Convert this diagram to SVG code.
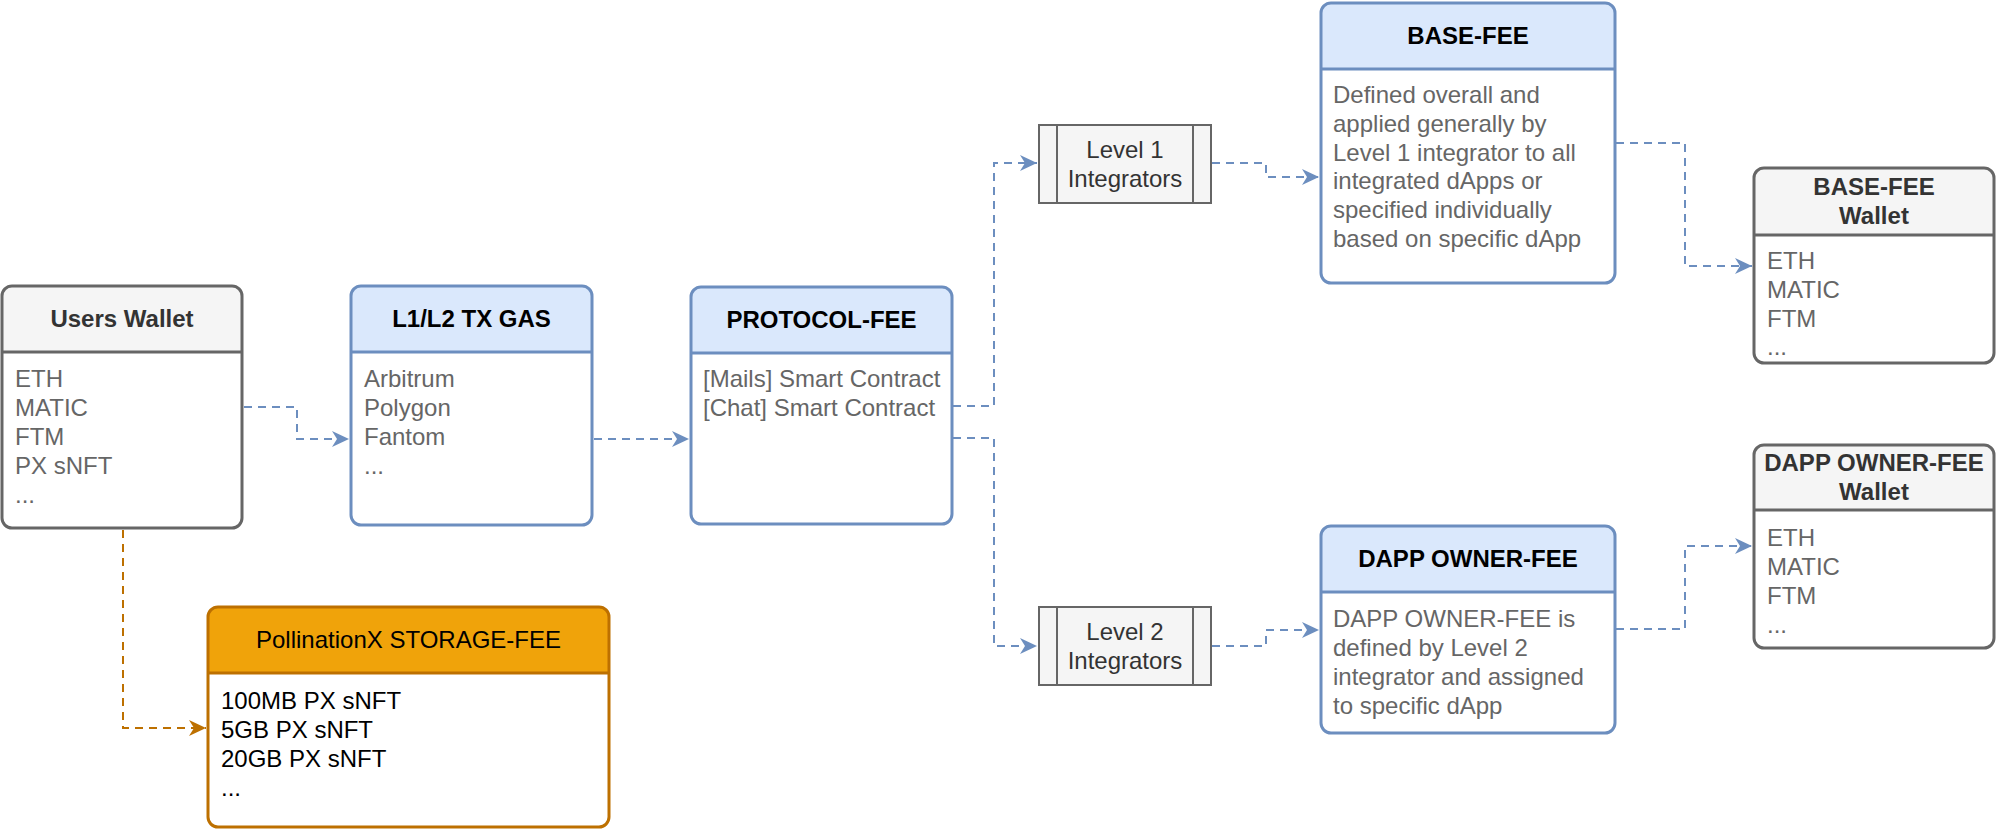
<svg xmlns="http://www.w3.org/2000/svg" width="1996" height="830" viewBox="0 0 1996 830">
<style>
text{font-family:"Liberation Sans",Arial,Helvetica,sans-serif;font-size:24px}
.t{font-weight:bold;text-anchor:middle}
.c{text-anchor:middle}
.g{fill:#666666}
.k{fill:#000000}
.d{fill:#333333}
.body{fill:#ffffff;stroke:none}
.ob{fill:none;stroke:#6c8ebf;stroke-width:3}
.og{fill:none;stroke:#666666;stroke-width:3}
.oo{fill:none;stroke:#BD7000;stroke-width:3}
.hb{fill:#dae8fc}
.hg{fill:#f5f5f5}
.ho{fill:#f0a30a}
.proc{fill:#f5f5f5;stroke:#666666;stroke-width:2}
.e{fill:none;stroke:#6c8ebf;stroke-width:2;stroke-dasharray:8 6}
.eo{fill:none;stroke:#BD7000;stroke-width:2;stroke-dasharray:8 6}
</style>
<defs>
<marker id="ab" markerUnits="userSpaceOnUse" markerWidth="20" markerHeight="20" viewBox="-18 -10 20 20" refX="0" refY="0" orient="auto"><path d="M0,0 L-17,-8 L-12,0 L-17,8 Z" fill="#6c8ebf"/></marker>
<marker id="ao" markerUnits="userSpaceOnUse" markerWidth="20" markerHeight="20" viewBox="-18 -10 20 20" refX="0" refY="0" orient="auto"><path d="M0,0 L-17,-8 L-12,0 L-17,8 Z" fill="#BD7000"/></marker>
</defs>

<g id="connectors">
<path class="e" d="M244,407 H297 V439 H349" marker-end="url(#ab)"/>
<path class="e" d="M594,439 H689" marker-end="url(#ab)"/>
<path class="e" d="M953,406 H994 V163 H1037" marker-end="url(#ab)"/>
<path class="e" d="M1212,163 H1266 V177 H1319" marker-end="url(#ab)"/>
<path class="e" d="M953,438 H994 V646 H1037" marker-end="url(#ab)"/>
<path class="e" d="M1212,646 H1266 V630 H1319" marker-end="url(#ab)"/>
<path class="e" d="M1616,143 H1685 V266 H1752" marker-end="url(#ab)"/>
<path class="e" d="M1616,629 H1685 V546 H1752" marker-end="url(#ab)"/>
<path class="eo" d="M123,530 V728 H206" marker-end="url(#ao)"/>
</g>

<g id="users-wallet">
<rect class="body" x="2" y="286" width="240" height="242" rx="10"/>
<path class="hg" d="M2,352 V296 A10,10 0 0 1 12,286 H232 A10,10 0 0 1 242,296 V352 Z"/>
<rect class="og" x="2" y="286" width="240" height="242" rx="10"/>
<line x1="2" y1="352" x2="242" y2="352" stroke="#666666" stroke-width="3"/>
<text class="t d" x="122" y="327">Users Wallet</text>
<text class="g" x="15" y="387">ETH</text>
<text class="g" x="15" y="416">MATIC</text>
<text class="g" x="15" y="445">FTM</text>
<text class="g" x="15" y="474">PX sNFT</text>
<text class="g" x="15" y="503">...</text>
</g>

<g id="l1l2-tx-gas">
<rect class="body" x="351" y="286" width="241" height="239" rx="10"/>
<path class="hb" d="M351,352 V296 A10,10 0 0 1 361,286 H582 A10,10 0 0 1 592,296 V352 Z"/>
<rect class="ob" x="351" y="286" width="241" height="239" rx="10"/>
<line x1="351" y1="352" x2="592" y2="352" stroke="#6c8ebf" stroke-width="3"/>
<text class="t k" x="471.5" y="327">L1/L2 TX GAS</text>
<text class="g" x="364" y="387">Arbitrum</text>
<text class="g" x="364" y="416">Polygon</text>
<text class="g" x="364" y="445">Fantom</text>
<text class="g" x="364" y="474">...</text>
</g>

<g id="protocol-fee">
<rect class="body" x="691" y="287" width="261" height="237" rx="10"/>
<path class="hb" d="M691,353 V297 A10,10 0 0 1 701,287 H942 A10,10 0 0 1 952,297 V353 Z"/>
<rect class="ob" x="691" y="287" width="261" height="237" rx="10"/>
<line x1="691" y1="353" x2="952" y2="353" stroke="#6c8ebf" stroke-width="3"/>
<text class="t k" x="821.5" y="328">PROTOCOL-FEE</text>
<text class="g" x="703" y="387">[Mails] Smart Contract</text>
<text class="g" x="703" y="416">[Chat] Smart Contract</text>
</g>

<g id="level1-integrators">
<rect class="proc" x="1039" y="125" width="172" height="78"/>
<line x1="1057" y1="125" x2="1057" y2="203" stroke="#666666" stroke-width="2"/>
<line x1="1193" y1="125" x2="1193" y2="203" stroke="#666666" stroke-width="2"/>
<text class="c d" x="1125" y="158">Level 1</text>
<text class="c d" x="1125" y="187">Integrators</text>
</g>

<g id="level2-integrators">
<rect class="proc" x="1039" y="607" width="172" height="78"/>
<line x1="1057" y1="607" x2="1057" y2="685" stroke="#666666" stroke-width="2"/>
<line x1="1193" y1="607" x2="1193" y2="685" stroke="#666666" stroke-width="2"/>
<text class="c d" x="1125" y="640">Level 2</text>
<text class="c d" x="1125" y="669">Integrators</text>
</g>

<g id="base-fee">
<rect class="body" x="1321" y="3" width="294" height="280" rx="10"/>
<path class="hb" d="M1321,69 V13 A10,10 0 0 1 1331,3 H1605 A10,10 0 0 1 1615,13 V69 Z"/>
<rect class="ob" x="1321" y="3" width="294" height="280" rx="10"/>
<line x1="1321" y1="69" x2="1615" y2="69" stroke="#6c8ebf" stroke-width="3"/>
<text class="t k" x="1468" y="44">BASE-FEE</text>
<text class="g" x="1333" y="103">Defined overall and</text>
<text class="g" x="1333" y="132">applied generally by</text>
<text class="g" x="1333" y="161">Level 1 integrator to all</text>
<text class="g" x="1333" y="189">integrated dApps or</text>
<text class="g" x="1333" y="218">specified individually</text>
<text class="g" x="1333" y="247">based on specific dApp</text>
</g>

<g id="dapp-owner-fee">
<rect class="body" x="1321" y="526" width="294" height="207" rx="10"/>
<path class="hb" d="M1321,592 V536 A10,10 0 0 1 1331,526 H1605 A10,10 0 0 1 1615,536 V592 Z"/>
<rect class="ob" x="1321" y="526" width="294" height="207" rx="10"/>
<line x1="1321" y1="592" x2="1615" y2="592" stroke="#6c8ebf" stroke-width="3"/>
<text class="t k" x="1468" y="567">DAPP OWNER-FEE</text>
<text class="g" x="1333" y="627">DAPP OWNER-FEE is</text>
<text class="g" x="1333" y="656">defined by Level 2</text>
<text class="g" x="1333" y="685">integrator and assigned</text>
<text class="g" x="1333" y="714">to specific dApp</text>
</g>

<g id="base-fee-wallet">
<rect class="body" x="1754" y="168" width="240" height="195" rx="10"/>
<path class="hg" d="M1754,235 V178 A10,10 0 0 1 1764,168 H1984 A10,10 0 0 1 1994,178 V235 Z"/>
<rect class="og" x="1754" y="168" width="240" height="195" rx="10"/>
<line x1="1754" y1="235" x2="1994" y2="235" stroke="#666666" stroke-width="3"/>
<text class="t d" x="1874" y="195">BASE-FEE</text>
<text class="t d" x="1874" y="224">Wallet</text>
<text class="g" x="1767" y="269">ETH</text>
<text class="g" x="1767" y="298">MATIC</text>
<text class="g" x="1767" y="327">FTM</text>
<text class="g" x="1767" y="355">...</text>
</g>

<g id="dapp-owner-fee-wallet">
<rect class="body" x="1754" y="445" width="240" height="203" rx="10"/>
<path class="hg" d="M1754,510 V455 A10,10 0 0 1 1764,445 H1984 A10,10 0 0 1 1994,455 V510 Z"/>
<rect class="og" x="1754" y="445" width="240" height="203" rx="10"/>
<line x1="1754" y1="510" x2="1994" y2="510" stroke="#666666" stroke-width="3"/>
<text class="t d" x="1874" y="471">DAPP OWNER-FEE</text>
<text class="t d" x="1874" y="500">Wallet</text>
<text class="g" x="1767" y="546">ETH</text>
<text class="g" x="1767" y="575">MATIC</text>
<text class="g" x="1767" y="604">FTM</text>
<text class="g" x="1767" y="633">...</text>
</g>

<g id="storage-fee">
<rect class="body" x="208" y="607" width="401" height="220" rx="10"/>
<path class="ho" d="M208,673 V617 A10,10 0 0 1 218,607 H599 A10,10 0 0 1 609,617 V673 Z"/>
<rect class="oo" x="208" y="607" width="401" height="220" rx="10"/>
<line x1="208" y1="673" x2="609" y2="673" stroke="#BD7000" stroke-width="3"/>
<text class="c k" x="408.5" y="648">PollinationX STORAGE-FEE</text>
<text class="k" x="221" y="709">100MB PX sNFT</text>
<text class="k" x="221" y="738">5GB PX sNFT</text>
<text class="k" x="221" y="767">20GB PX sNFT</text>
<text class="k" x="221" y="796">...</text>
</g>
</svg>
